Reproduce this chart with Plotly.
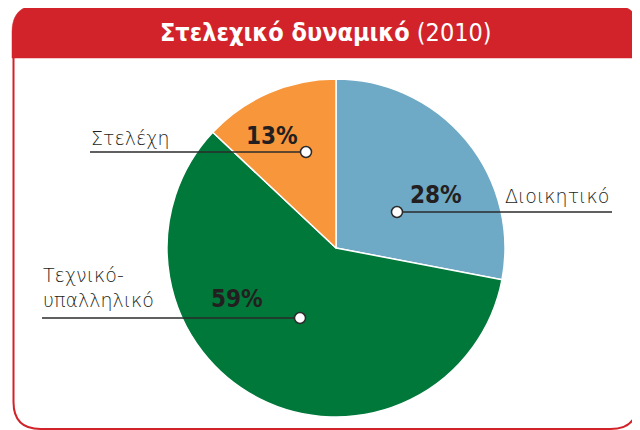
import plotly.graph_objects as go

# ---- data ----
categories = ["Διοικητικό", "Τεχνικό-υπαλληλικό", "Στελέχη"]
values = [28, 59, 13]
colors = ["#6EA9C6", "#00783A", "#F7963A"]
label_texts = ["Διοικητικό", "Τεχνικό-<br>υπαλληλικό", "Στελέχη"]
title_main = "Στελεχικό δυναμικό"
title_year = "(2010)"

W, H = 640, 430
OFF = 8  # browser default body margin
FW, FH = W - OFF, H - OFF
RED = "#D2232A"
DARK = "#2B2B2B"

def px_to_paper_x(px):
    return (px - OFF) / FW

def px_to_paper_y(py):
    return 1 - (py - OFF) / FH

fig = go.Figure()

# pie (centre ~ (336,248), radius ~169 px in screen coords)
cx, cy, r = 336, 248, 169
fig.add_trace(go.Pie(
    labels=categories, values=values, sort=False, direction="clockwise",
    rotation=0, marker=dict(colors=colors, line=dict(color="white", width=1.5)),
    textinfo="none", hoverinfo="label+percent", showlegend=False,
    domain=dict(x=[px_to_paper_x(cx - r), px_to_paper_x(cx + r)],
                y=[px_to_paper_y(cy + r), px_to_paper_y(cy - r)]),
))

layout_spec = [
    dict(x0=397, x1=612, y=212, dot=397, px=408, py=195, pxa="left", lx=611, ly=196, lxa="right"),
    dict(x0=42, x1=300, y=318, dot=300, px=265, py=299, pxa="right", lx=41, ly=287, lxa="left"),
    dict(x0=90, x1=306, y=152, dot=306, px=300, py=136, pxa="right", lx=89, ly=138, lxa="left"),
]

shapes = []
annotations = []
for v, txt, s in zip(values, label_texts, layout_spec):
    shapes.append(dict(type="line", xref="x", yref="y", x0=s["x0"], x1=s["x1"], y0=s["y"], y1=s["y"],
                       line=dict(color=DARK, width=1.5), layer="above"))
    d = 5.5
    shapes.append(dict(type="circle", xref="x", yref="y", x0=s["dot"] - d, x1=s["dot"] + d,
                       y0=s["y"] - d, y1=s["y"] + d, fillcolor="white",
                       line=dict(color=DARK, width=1.5), layer="above"))
    annotations.append(dict(xref="x", yref="y", x=s["px"], y=s["py"], xanchor=s["pxa"], yanchor="middle",
                            text=f"<b>{v}%</b>", showarrow=False,
                            font=dict(family="DejaVu Sans Condensed", size=24, color="#231F20")))
    annotations.append(dict(xref="x", yref="y", x=s["lx"], y=s["ly"], xanchor=s["lxa"], yanchor="middle",
                            text=txt, showarrow=False, align="left",
                            font=dict(family="DejaVu Sans", size=19, weight=300, color="#231F20")))

# frame: red header with rounded top corners, body with red border and rounded bottom corners
L, R, T, HB, rad = 12, 639, 5, 58, 27
bl, br, B, brad = 13.5, 637.5, 429, 27
header_path = (f"M {L},{HB} L {L},{T+rad} Q {L},{T} {L+rad},{T} L {R-rad},{T} Q {R},{T} {R},{T+rad} "
               f"L {R},{HB} Z")
body_path = (f"M {bl},{HB} L {bl},{B-brad} Q {bl},{B} {bl+brad},{B} L {br-brad},{B} Q {br},{B} {br},{B-brad} "
             f"L {br},{HB}")
shapes.insert(0, dict(type="path", xref="x", yref="y", path=body_path, line=dict(color=RED, width=2),
                      fillcolor="rgba(0,0,0,0)", layer="below"))
shapes.insert(0, dict(type="path", xref="x", yref="y", path=header_path, line=dict(color=RED, width=0.5),
                      fillcolor=RED, layer="below"))

annotations.append(dict(xref="x", yref="y", x=326, y=32, xanchor="center", yanchor="middle",
                        text=f"<b>{title_main}</b> {title_year}", showarrow=False,
                        font=dict(family="DejaVu Sans Condensed", size=25, color="white")))

fig.update_layout(
    width=FW, height=FH, margin=dict(l=0, r=0, t=0, b=0),
    paper_bgcolor="white", plot_bgcolor="rgba(0,0,0,0)",
    xaxis=dict(range=[OFF, W], visible=False, fixedrange=True, domain=[0, 1]),
    yaxis=dict(range=[H, OFF], visible=False, fixedrange=True, domain=[0, 1]),
    shapes=shapes, annotations=annotations,
)

fig.write_html("out.html")
